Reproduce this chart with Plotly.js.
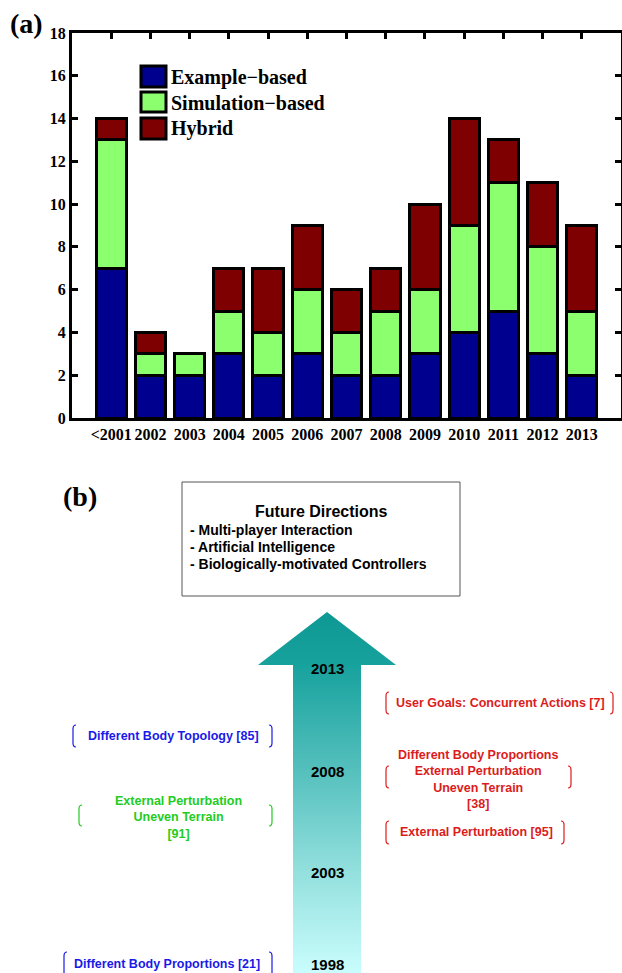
<!DOCTYPE html>
<html>
<head>
<meta charset="utf-8">
<script src="https://cdn.plot.ly/plotly-3.0.1.min.js"></script>
<style>html,body{margin:0;padding:0;background:#fff;}#chart{width:622px;height:973px;}</style>
</head>
<body>
<div id="chart"></div>
<script>
// ---------- data ----------
const categories = ['<2001','2002','2003','2004','2005','2006','2007','2008','2009','2010','2011','2012','2013'];
const exampleBased    = [7,2,2,3,2,3,2,2,3,4,5,3,2];
const simulationBased = [6,1,1,2,2,3,2,3,3,5,6,5,3];
const hybrid          = [1,1,0,2,3,3,2,2,4,5,2,3,4];
const seriesNames = ['Example\u2212based','Simulation\u2212based','Hybrid'];
const yTickVals = [0,2,4,6,8,10,12,14,16,18];
const timelineYears = [1998,2003,2008,2013];
const futureTitle = 'Future Directions';
const futureItems = ['- Multi-player Interaction','- Artificial Intelligence','- Biologically-motivated Controllers'];
const leftNotes = [
  'Different Body Topology [85]',
  'External Perturbation<br>Uneven Terrain<br>[91]',
  'Different Body Proportions [21]'
];
const rightNotes = [
  'User Goals: Concurrent Actions [7]',
  'Different Body Proportions<br>External Perturbation<br>Uneven Terrain<br>[38]',
  'External Perturbation [95]'
];

// ---------- styles ----------
const W = 622, H = 973;
const seriesColors = ['#00008f','#8cff6e','#7f0000'];
const serif = 'Liberation Serif, Times New Roman, serif';
const sans = 'Liberation Sans, Arial, sans-serif';
const blue = '#1a1ae8', green = '#22cc22', red = '#dc1c1c';

const barTrace = (vals, i) => ({
  type:'bar', x:categories, y:vals, name:seriesNames[i],
  marker:{color:seriesColors[i], line:{color:'black', width:3}},
  showlegend:false, hoverinfo:'x+y+name'
});

const traces = [barTrace(exampleBased,0), barTrace(simulationBased,1), barTrace(hybrid,2)];

// timeline arrow (diagram, pixel space of overlay axes)
traces.push({
  type:'scatter', mode:'lines', xaxis:'x2', yaxis:'y2',
  x:[293,293,258,327,396,361,361,293],
  y:[973,665,665,612,665,665,973,973],
  fill:'toself',
  fillgradient:{type:'vertical', colorscale:[[0,'#cafdfd'],[0.28,'#93e0de'],[0.56,'#55c0bd'],[0.85,'#18a29e'],[1,'#0e9894']]},
  line:{width:0, color:'rgba(0,0,0,0)'},
  showlegend:false, hoverinfo:'skip'
});

const shapes = [];
const annotations = [];

// legend
const legendY = [[66,87],[92,112],[118,139]];
const legendTextY = [77,103,128];
seriesNames.forEach((n,i)=>{
  shapes.push({type:'rect', xref:'x2', yref:'y2', x0:141, x1:166, y0:legendY[i][0], y1:legendY[i][1],
    fillcolor:seriesColors[i], line:{color:'black', width:3}});
  annotations.push({xref:'x2', yref:'y2', x:169, y:legendTextY[i], xanchor:'left', yanchor:'middle',
    text:n, showarrow:false, font:{family:serif, size:20, color:'black', weight:'bold'}});
});

// panel labels
annotations.push({xref:'x2', yref:'y2', x:26, y:23, text:'(a)', showarrow:false,
  font:{family:serif, size:28, color:'black', weight:'bold'}});
annotations.push({xref:'x2', yref:'y2', x:80, y:496, text:'(b)', showarrow:false,
  font:{family:serif, size:28, color:'black', weight:'bold'}});

// future directions box
shapes.push({type:'rect', xref:'x2', yref:'y2', x0:182, x1:460, y0:482, y1:596,
  fillcolor:'white', line:{color:'#555', width:1}});
annotations.push({xref:'x2', yref:'y2', x:321, y:511, text:futureTitle, showarrow:false,
  font:{family:sans, size:16, color:'black', weight:'bold'}});
const futY = [530,547,564];
futureItems.forEach((t,i)=>annotations.push({xref:'x2', yref:'y2', x:188, y:futY[i], xanchor:'left',
  text:t, showarrow:false, font:{family:sans, size:14, color:'black', weight:'bold'}}));

// year labels
const yearPx = [964,872,771,668];
timelineYears.forEach((yr,i)=>annotations.push({xref:'x2', yref:'y2', x:327, y:yearPx[i], text:String(yr),
  showarrow:false, font:{family:sans, size:15, color:'black', weight:'bold'}}));

// brackets
function bracket(xl, xr, y0, y1, color){
  const c = 3, v = 4;
  shapes.push({type:'path', xref:'x2', yref:'y2', line:{color, width:1.2},
    path:`M ${xl+c},${y0} Q ${xl},${y0} ${xl},${y0+v} L ${xl},${y1-v} Q ${xl},${y1} ${xl+c},${y1}`});
  shapes.push({type:'path', xref:'x2', yref:'y2', line:{color, width:1.2},
    path:`M ${xr-c},${y0} Q ${xr},${y0} ${xr},${y0+v} L ${xr},${y1-v} Q ${xr},${y1} ${xr-c},${y1}`});
}
function note(text, x, y, color){
  annotations.push({xref:'x2', yref:'y2', x, y, text, showarrow:false,
    font:{family:sans, size:12.5, color, weight:'bold'}});
}
// left side
bracket(73,272,725,747,blue);  note(leftNotes[0],173,736,blue);
bracket(79,272,805,826,green); note(leftNotes[1],178,817,green);
bracket(64,272,952,978,blue);  note(leftNotes[2],167,964,blue);
// right side
bracket(386,613,692,714,red);  note(rightNotes[0],500,703,red);
bracket(386,571,766,788,red);  note(rightNotes[1],478,779,red);
bracket(386,564,821,844,red);  note(rightNotes[2],476,832,red);

const layout = {
  width:W, height:H,
  margin:{l:0,r:0,t:0,b:0},
  paper_bgcolor:'white', plot_bgcolor:'rgba(0,0,0,0)',
  barmode:'stack', bargap:0.23,
  showlegend:false,
  xaxis:{
    type:'category', range:[-1,13], domain:[72/W, 621/W], anchor:'y',
    showline:true, linewidth:3, linecolor:'black', mirror:'ticks',
    ticks:'inside', ticklen:6, tickwidth:3, tickcolor:'black',
    showgrid:false, zeroline:false, layer:'below traces',
    tickfont:{family:serif, size:16, color:'black', weight:'bold'}, fixedrange:true
  },
  yaxis:{
    range:[0,18], domain:[1-418/H, 1-33/H], anchor:'x',
    tickvals:yTickVals, ticktext:yTickVals.map(String),
    showline:true, linewidth:3, linecolor:'black', mirror:'ticks',
    ticks:'inside', ticklen:6, tickwidth:3, tickcolor:'black',
    showgrid:false, zeroline:false, layer:'below traces',
    tickfont:{family:serif, size:16, color:'black', weight:'bold'}, fixedrange:true
  },
  xaxis2:{domain:[0,1], range:[0,W], anchor:'y2', visible:false, fixedrange:true},
  yaxis2:{domain:[0,1], range:[H,0], anchor:'x2', visible:false, fixedrange:true},
  shapes, annotations
};

Plotly.newPlot('chart', traces, layout, {displayModeBar:false, staticPlot:true});
</script>
</body>
</html>
